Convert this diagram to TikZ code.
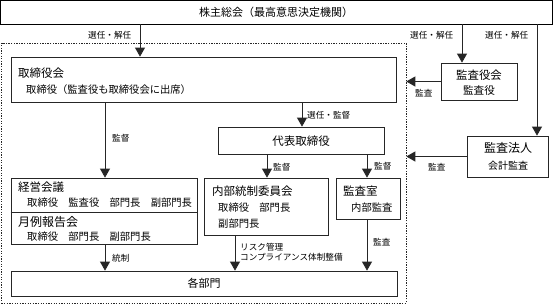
\documentclass[tikz,border=0pt]{standalone}
\usepackage{fontspec}
\setmainfont{Noto Sans CJK JP}
\usetikzlibrary{arrows.meta,fit}
\begin{document}
\begin{tikzpicture}[x=1pt,y=-1pt,
  box/.style={draw=black!85,line width=0.8pt,inner sep=0pt,fill=white},
  arr/.style={draw=black!85,line width=0.8pt,-{Triangle[width=10pt,length=9pt]}},
  ttl/.style={inner sep=0pt,anchor=west,font=\fontsize{11.5}{13}\selectfont},
  sub/.style={inner sep=0pt,anchor=west,font=\fontsize{10.3}{12}\selectfont},
  lbl/.style={inner sep=0pt,anchor=west,font=\fontsize{8.6}{10}\selectfont},
  ctr/.style={inner sep=0pt,anchor=center}]
\useasboundingbox (0,0) rectangle (553,306);
\fill[white] (0,0) rectangle (553,306);
% dashed enclosure
\node[draw=black!85,line width=0.6pt,dash pattern=on 1.3pt off 1.3pt,inner sep=0pt,fit={(1.5,43) (406,303)}] (dash) {};
% boxes
\node[box,draw=black,fit={(0.5,0.5) (552.5,24)}] (top) {};
\node[box,fit={(11,57) (396,102)}] (board) {};
\node[box,fit={(218,127) (384,154)}] (rep) {};
\node[box,fit={(11,178) (197,244)}] (mgmt) {};
\node[box,fit={(204,178) (328,235)}] (icc) {};
\node[box,fit={(336,178) (400,219)}] (audr) {};
\node[box,fit={(11,271) (397,296)}] (depts) {};
\node[box,fit={(441,63) (517,100)}] (kansa) {};
\node[box,fit={(467,136) (548,177)}] (hojin) {};
\coordinate (dv) at (0,212);
\draw[draw=black!85,line width=0.8pt] (mgmt.west |- dv) -- (mgmt.east |- dv);
% texts
\node[ctr,font=\fontsize{11}{13}\selectfont] (tTop) at (276,12) {株主総会（最高意思決定機関）};
\node[ttl] (tBoard) at (18,73) {取締役会};
\node[sub] (tBoard2) at (26,90) {取締役（監査役も取締役会に出席）};
\node[ctr,font=\fontsize{11.5}{13}\selectfont] (tRep) at (301,141) {代表取締役};
\node[ttl] (tMgmt) at (18,187) {経営会議};
\node[sub] (tMgmt2) at (27,203) {取締役　監査役　部門長　副部門長};
\node[ttl,font=\fontsize{12}{14}\selectfont] (tMon) at (18,222) {月例報告会};
\node[sub] (tMon2) at (27,237) {取締役　部門長　副部門長};
\node[ttl] (tIcc) at (212,191) {内部統制委員会};
\node[sub] (tIcc2) at (218,208) {取締役　部門長};
\node[sub] (tIcc3) at (218,224) {副部門長};
\node[ttl] (tAud) at (343,191) {監査室};
\node[sub] (tAud2) at (351,208) {内部監査};
\node[ctr,font=\fontsize{11}{13}\selectfont] (tDep) at (204,283) {各部門};
\node[ctr,font=\fontsize{11.4}{13}\selectfont] (tKan) at (479,75) {監査役会};
\node[ctr,font=\fontsize{10.6}{12}\selectfont] (tKan2) at (479,90) {監査役};
\node[ctr,font=\fontsize{12}{14}\selectfont] (tHoj) at (508,148) {監査法人};
\node[ctr,font=\fontsize{10}{12}\selectfont] (tHoj2) at (508,166) {会計監査};
% x positions of connectors
\coordinate (xa) at (140,0);
\coordinate (xb) at (462,0);
\coordinate (xc) at (537,0);
\coordinate (xd) at (105,0);
\coordinate (xe) at (302,0);
\coordinate (xf) at (267,0);
\coordinate (xg) at (367,0);
\coordinate (xh) at (235,0);
% connectors
\draw[arr] (top.south -| xa) -- (board.north -| xa);
\draw[arr] (top.south -| xb) -- (kansa.north -| xb);
\draw[arr] (top.south -| xc) -- (hojin.north -| xc);
\draw[arr] (board.south -| xd) -- (mgmt.north -| xd);
\draw[arr] (board.south -| xe) -- (rep.north -| xe);
\draw[arr] (rep.south -| xf) -- (icc.north -| xf);
\draw[arr] (rep.south -| xg) -- (audr.north -| xg);
\draw[arr] (mgmt.south -| xd) -- (depts.north -| xd);
\draw[arr] (icc.south -| xh) -- (depts.north -| xh);
\draw[arr] (audr.south -| xg) -- (depts.north -| xg);
\draw[arr] (kansa.west) -- (kansa.west -| dash.east);
\draw[arr] (hojin.west) -- (hojin.west -| dash.east);
% labels
\node[lbl] (l1) at (88,35) {選任・解任};
\node[lbl] (l2) at (410,35) {選任・解任};
\node[lbl] (l3) at (485,35) {選任・解任};
\node[lbl] (l4) at (112,138) {監督};
\node[lbl] (l5) at (307,115) {選任・監督};
\node[lbl] (l6) at (273,167) {監督};
\node[lbl] (l7) at (374,166) {監督};
\node[lbl] (l8) at (112,258) {統制};
\node[lbl] (l9) at (240,247) {リスク管理};
\node[lbl] (l10) at (240,257) {コンプライアンス体制整備};
\node[lbl] (l11) at (373,242) {監査};
\node[lbl] (l12) at (415,93) {監査};
\node[lbl] (l13) at (428,167) {監査};
\end{tikzpicture}
\end{document}
